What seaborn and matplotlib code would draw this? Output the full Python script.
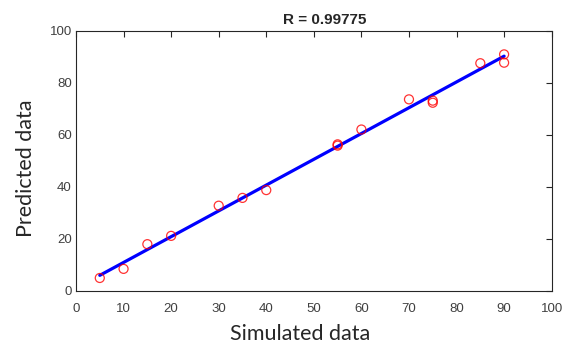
# Regression plot: predicted vs simulated data
import matplotlib
matplotlib.use("Agg")
import matplotlib.pyplot as plt
import seaborn as sns

simulated = [5, 10, 15, 20, 30, 35, 40, 55, 55, 60, 70, 75, 75, 85, 90, 90]
predicted = [4.9, 8.4, 17.9, 21.1, 32.7, 35.7, 38.7, 56.3, 55.8, 62.0, 73.6, 73.1, 72.3, 87.5, 90.9, 87.7]
r_label = "R = 0.99775"

x_ticks = list(range(0, 101, 10))
y_ticks = list(range(0, 101, 20))

sns.set_style("white")
plt.rcParams["font.family"] = ["Liberation Sans", "DejaVu Sans"]

fig = plt.figure(figsize=(5.74, 3.49), dpi=100)
ax = fig.add_axes([0.1324, 0.167, 0.8287, 0.745])

sns.regplot(x=simulated, y=predicted, ax=ax, ci=None,
            scatter_kws={"facecolors": "none", "edgecolors": "red", "s": 42,
                         "linewidths": 0.9, "zorder": 3},
            line_kws={"color": "blue", "lw": 2.3, "zorder": 2})

ax.set_xlim(0, 100)
ax.set_ylim(0, 100)
ax.set_xticks(x_ticks)
ax.set_yticks(y_ticks)
ax.tick_params(direction="in", length=4, width=0.8, colors="#262626",
               labelcolor="#404040", labelsize=9.5, top=True, right=True)
ax.tick_params(axis="x", pad=9)
ax.tick_params(axis="y", pad=3)
for s in ax.spines.values():
    s.set_color("#262626")
    s.set_linewidth(0.8)

ax.set_title(r_label, fontsize=11, fontweight="bold", x=0.522, pad=5)
ax.set_xlabel("Simulated data", fontsize=15.5, family="Lato")
ax.set_ylabel("Predicted data", fontsize=15.5, family="Lato")
ax.xaxis.set_label_coords(0.471, -0.128)
ax.yaxis.set_label_coords(-0.084, 0.47)

fig.savefig("out.png", dpi=100)
plt.close(fig)
